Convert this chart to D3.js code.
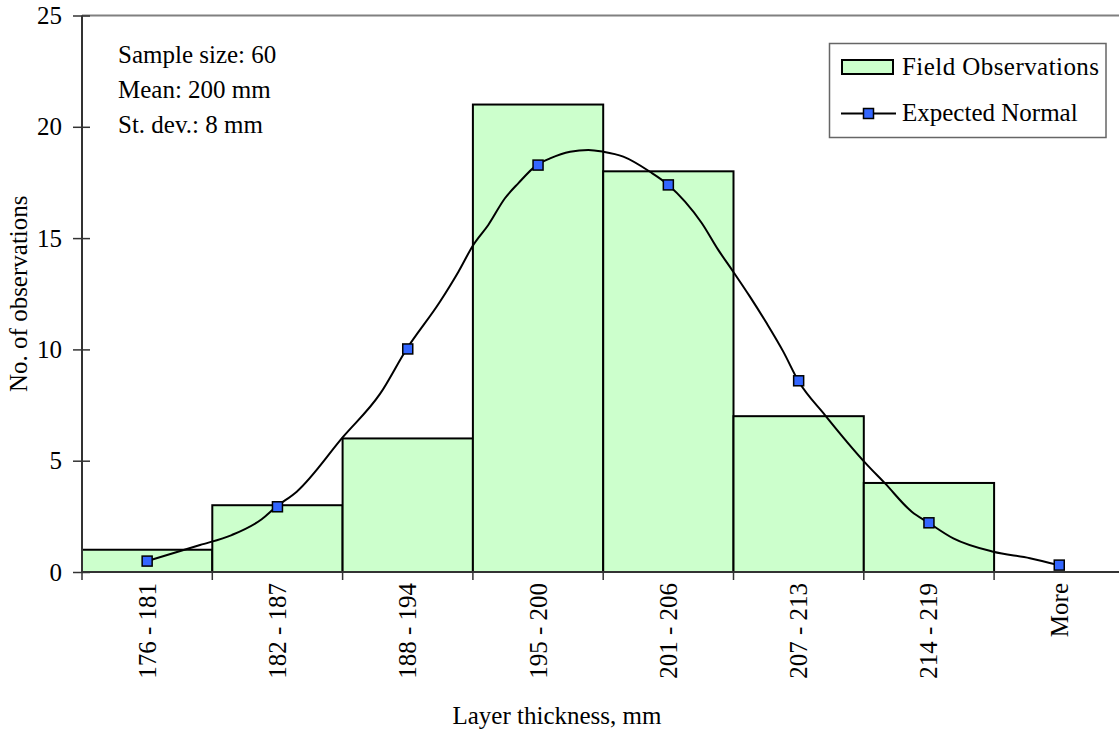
<!DOCTYPE html>
<html><head><meta charset="utf-8">
<script src="https://cdn.jsdelivr.net/npm/d3@7"></script>
<style>
body{margin:0;background:#fff;}
text{font-family:"Liberation Serif","Times New Roman",serif;fill:#000;}
</style></head>
<body><svg id="c" width="1119" height="734"></svg>
<script>
const categories = ["176 - 181","182 - 187","188 - 194","195 - 200","201 - 206","207 - 213","214 - 219","More"];
const observed = [1, 3, 6, 21, 18, 7, 4, 0];
const expected = [0.49, 2.93, 10.02, 18.28, 17.39, 8.59, 2.21, 0.31];
// smoothed curve points: position in category units (0 = first category centre), value
const curvePos = [0, 0.406, 0.649, 0.879, 0.991, 1.148, 1.505, 1.787, 1.992, 2.247, 2.388, 2.503, 2.618, 2.746, 2.848, 2.99, 3.092, 3.246, 3.386, 3.501, 3.654, 3.859, 4.0, 4.128, 4.256, 4.383, 4.498, 4.626, 4.755, 4.882, 4.997, 5.202, 5.515, 5.663, 5.868, 5.998, 6.187, 6.494, 6.775, 6.996];
const curveVal = [0.49, 1.21, 1.66, 2.37, 2.93, 3.61, 6.08, 8.0, 10.02, 12.14, 13.48, 14.69, 15.59, 16.79, 17.46, 18.28, 18.58, 18.88, 18.96, 18.88, 18.66, 17.98, 17.39, 16.64, 15.68, 14.47, 13.49, 12.37, 11.17, 9.9, 8.59, 7.05, 4.88, 3.98, 2.71, 2.21, 1.51, 0.91, 0.62, 0.31];
const yTicks = [0, 5, 10, 15, 20, 25];
const notes = ["Sample size: 60", "Mean: 200 mm", "St. dev.: 8 mm"];
const seriesNames = ["Field Observations", "Expected Normal"];

const svg = d3.select("#c");
const L = 82, R = 1124.4, T = 15.5, B = 572;
const FS = 25;

const x = d3.scaleBand().domain(categories).range([L, R]).padding(0);
const step = x.step();
const xc = d3.scaleLinear().domain([0, 1]).range([x(categories[0]) + x.bandwidth()/2, x(categories[0]) + x.bandwidth()/2 + step]);
const y = d3.scaleLinear().domain([0, 25]).range([B, T]);

// top border
svg.append("line").attr("x1", L).attr("x2", 1119).attr("y1", T).attr("y2", T)
  .attr("stroke", "#808080").attr("stroke-width", 2);

// bars
svg.append("g").selectAll("rect").data(observed).join("rect")
  .attr("x", (d,i) => x(categories[i]))
  .attr("y", d => y(d))
  .attr("width", x.bandwidth())
  .attr("height", d => B - y(d))
  .attr("fill", "#ccffcc")
  .attr("stroke", "#000")
  .attr("stroke-width", 2);

// curve
const line = d3.line().x(d => xc(d[0])).y(d => y(d[1])).curve(d3.curveMonotoneX);
svg.append("path").datum(curvePos.map((p,i) => [p, curveVal[i]]))
  .attr("d", line).attr("fill", "none").attr("stroke", "#000").attr("stroke-width", 2);

// markers
svg.append("g").selectAll("rect").data(expected).join("rect")
  .attr("x", (d,i) => x(categories[i]) + x.bandwidth()/2 - 5)
  .attr("y", d => y(d) - 5)
  .attr("width", 10).attr("height", 10)
  .attr("fill", "#3366ff").attr("stroke", "#000").attr("stroke-width", 1.5);

// y axis
const yAxis = svg.append("g").attr("transform", `translate(${L},0)`)
  .call(d3.axisLeft(y).tickValues(yTicks).tickSize(0).tickPadding(20));
yAxis.select(".domain").attr("stroke", "#333").attr("stroke-width", 2).attr("d", `M0,${T}V${B}`);
yAxis.selectAll(".tick text").attr("font-size", FS).attr("font-family", "Liberation Serif").attr("fill", "#000");
yAxis.selectAll(".tick").append("line").attr("x1", -9).attr("x2", 8).attr("stroke", "#333").attr("stroke-width", 1.5);

// x axis
const xAxis = svg.append("g").attr("transform", `translate(0,${B})`)
  .call(d3.axisBottom(x).tickSize(0).tickPadding(0));
xAxis.select(".domain").attr("stroke", "#333").attr("stroke-width", 2).attr("d", `M${L},0H1119`);
xAxis.selectAll(".tick text")
  .attr("font-size", FS).attr("font-family", "Liberation Serif").attr("fill", "#000")
  .attr("transform", "rotate(-90)")
  .attr("text-anchor", "end")
  .attr("x", -11).attr("y", 0).attr("dy", "0.34em");
svg.append("g").selectAll("line").data(d3.range(categories.length)).join("line")
  .attr("x1", i => x(categories[i])).attr("x2", i => x(categories[i]))
  .attr("y1", B).attr("y2", B + 8).attr("stroke", "#333").attr("stroke-width", 1.5);

// axis titles
svg.append("text").attr("x", 557).attr("y", 724).attr("text-anchor", "middle")
  .attr("font-size", FS).text("Layer thickness, mm");
svg.append("text").attr("transform", `translate(27,${(T+B)/2}) rotate(-90)`)
  .attr("text-anchor", "middle").attr("font-size", FS).text("No. of observations");

// notes
svg.append("g").selectAll("text").data(notes).join("text")
  .attr("x", 118).attr("y", (d,i) => 63 + i*35).attr("font-size", FS).text(d => d);

// legend
const lg = svg.append("g");
lg.append("rect").attr("x", 829.5).attr("y", 43.5).attr("width", 276.5).attr("height", 94)
  .attr("fill", "#fff").attr("stroke", "#666").attr("stroke-width", 1.5);
lg.append("rect").attr("x", 842).attr("y", 60).attr("width", 51).attr("height", 14)
  .attr("fill", "#ccffcc").attr("stroke", "#000").attr("stroke-width", 2);
lg.append("text").attr("x", 902).attr("y", 75).attr("font-size", FS)
  .attr("textLength", 197).attr("lengthAdjust", "spacing").text(seriesNames[0]);
lg.append("line").attr("x1", 841).attr("x2", 896).attr("y1", 113.5).attr("y2", 113.5)
  .attr("stroke", "#000").attr("stroke-width", 2);
lg.append("rect").attr("x", 863.5).attr("y", 108.5).attr("width", 10).attr("height", 10)
  .attr("fill", "#3366ff").attr("stroke", "#000").attr("stroke-width", 1.5);
lg.append("text").attr("x", 902).attr("y", 121).attr("font-size", FS).text(seriesNames[1]);
</script></body></html>
